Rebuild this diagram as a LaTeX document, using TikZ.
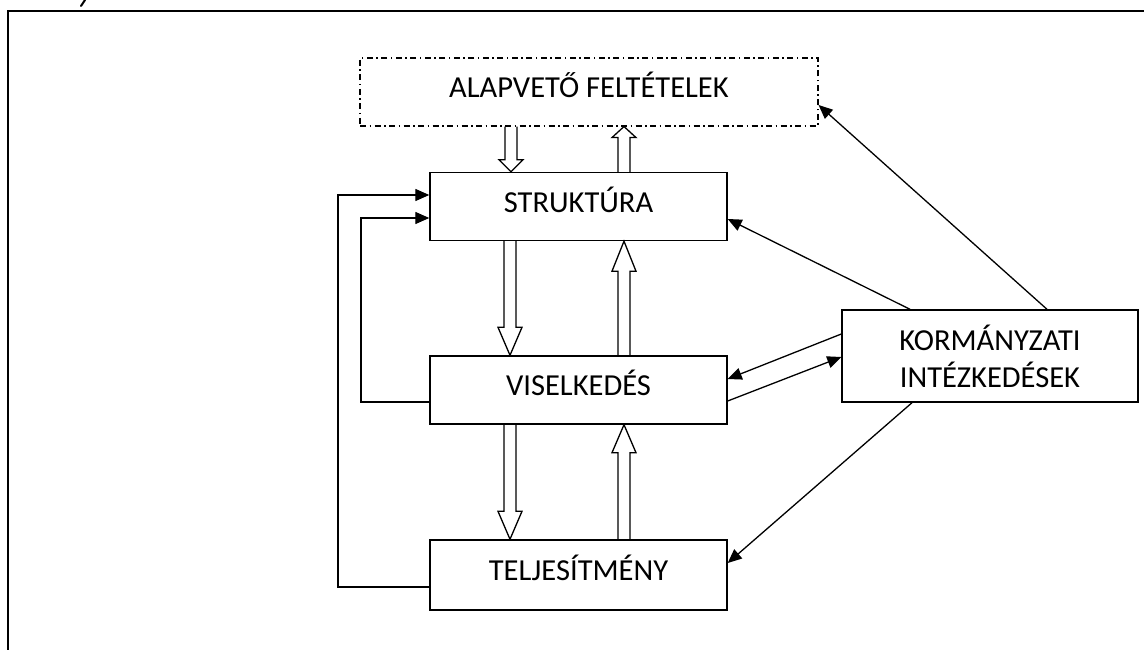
\documentclass[tikz,border=0pt]{standalone}
\usepackage{fontspec}
\setmainfont{Carlito}
\usetikzlibrary{arrows.meta,calc}
\tikzset{
  box/.style={draw, line width=1.4pt, minimum width=297pt, minimum height=68pt, inner sep=0pt,
    font=\fontsize{30.5}{37}\selectfont, text height=20pt, text depth=9pt},
  dbox/.style={box, line width=1.1pt, minimum width=458pt,
    dash pattern=on 6pt off 3.5pt on 1.5pt off 3.5pt},
  con/.style={line width=1.3pt, -{Triangle[length=14pt,width=12pt]}},
  blk/.style={draw, line width=1.3pt, line join=miter},
}
% #1 x position (pt), #2 tail anchor, #3 tip anchor, #4 signed head length
\newcommand\blkarrow[4]{%
  \draw[blk] let \p1=(#2), \p2=(#3) in
    ({#1pt-6pt},{\y1}) -- ({#1pt-6pt},{\y2+(#4)}) -- ({#1pt-12pt},{\y2+(#4)}) -- ({#1pt},{\y2})
    -- ({#1pt+12pt},{\y2+(#4)}) -- ({#1pt+6pt},{\y2+(#4)}) -- ({#1pt+6pt},{\y1});}
\begin{document}
\begin{tikzpicture}[x=1pt,y=-1pt]
\useasboundingbox (0,0) rectangle (1144,650);
% frame
\draw[line width=1.8pt] (8,650) -- (8,11) -- (1144,11);
\draw[line width=2pt, line cap=round] (81,6) -- (85,0);
% nodes
\node[dbox] (alap) at (589,92) {ALAPVETŐ FELTÉTELEK};
\node[box] (struk) at (578.5,206.5) {STRUKTÚRA};
\node[box] (vis) at (578.5,390) {VISELKEDÉS};
\node[box, minimum height=70pt] (telj) at (578.5,575) {TELJESÍTMÉNY};
\node[box, minimum width=296pt, minimum height=92pt, align=center, text height=, text depth=] (kor) at (990,356) {KORMÁNYZATI\\INTÉZKEDÉSEK};
% block arrows
\blkarrow{511}{alap.south}{struk.north}{12pt}
\blkarrow{624}{struk.north}{alap.south}{-11pt}
\blkarrow{510}{struk.south}{vis.north}{28pt}
\blkarrow{624}{vis.north}{struk.south}{-30pt}
\blkarrow{510}{vis.south}{telj.north}{28pt}
\blkarrow{624}{telj.north}{vis.south}{-28pt}
% connectors
\draw[con] (kor.north -| 910,0) -- (struk.east |- 0,219);
\draw[con] (kor.north -| 1047,0) -- (alap.east |- 0,105);
\draw[con] (kor.west |- 0,334) -- (vis.east |- 0,379);
\draw[con] (vis.east |- 0,401) -- (kor.west |- 0,357);
\draw[con] (kor.south -| 912,0) -- (telj.east |- 0,563);
\draw[con] (telj.west |- 0,587) -| (338,195) -- (struk.west |- 0,195);
\draw[con] (vis.west |- 0,402) -| (361,218) -- (struk.west |- 0,218);
\end{tikzpicture}
\end{document}
